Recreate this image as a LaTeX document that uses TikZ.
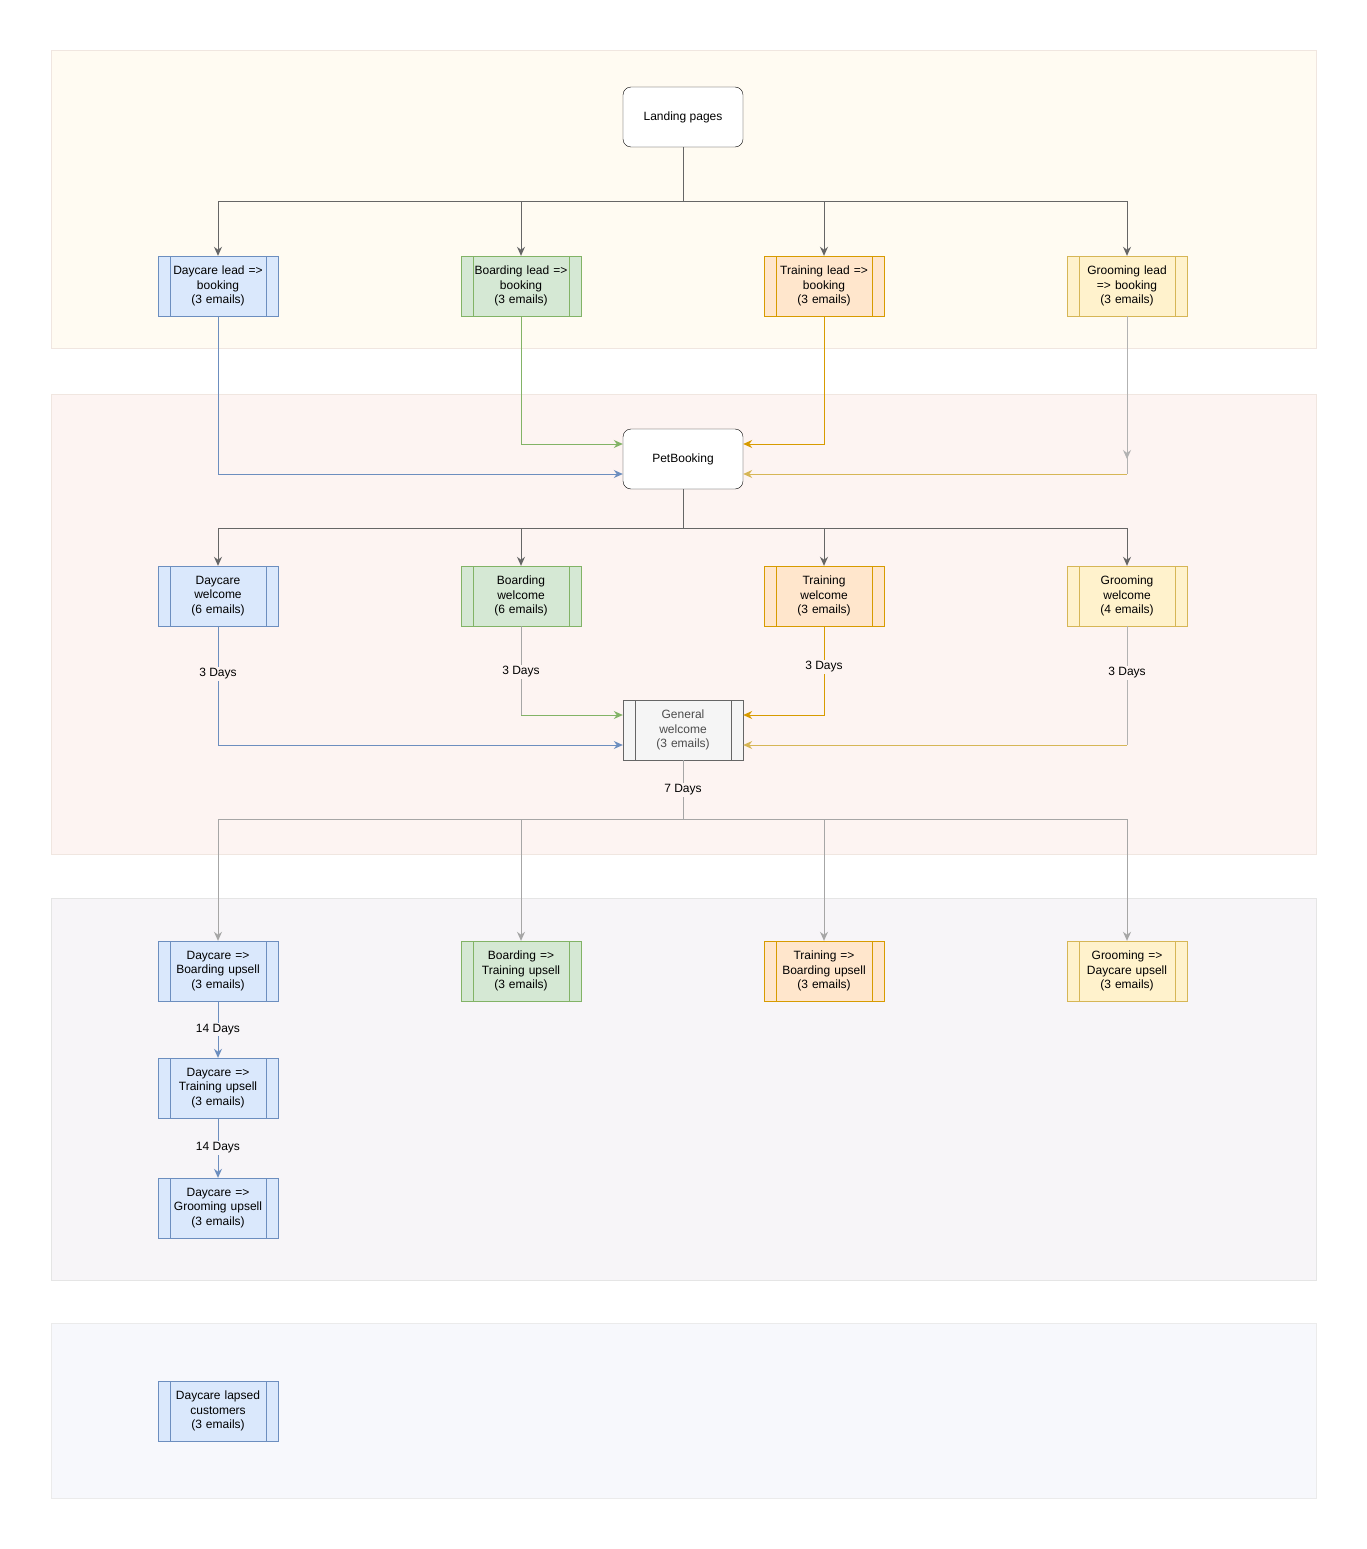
\documentclass[tikz,border=0pt]{standalone}
\usepackage{fontspec}
\setmainfont{Liberation Sans}
\usetikzlibrary{arrows.meta}
\definecolor{bF}{HTML}{DAE8FC}\definecolor{bD}{HTML}{6C8EBF}
\definecolor{gF}{HTML}{D5E8D4}\definecolor{gD}{HTML}{82B366}
\definecolor{oF}{HTML}{FFE6CC}\definecolor{oD}{HTML}{D79B00}
\definecolor{yF}{HTML}{FFF2CC}\definecolor{yD}{HTML}{D6B656}
\definecolor{nF}{HTML}{F5F5F5}\definecolor{nD}{HTML}{666666}
\definecolor{band1}{HTML}{FFFBF2}\definecolor{band2}{HTML}{FDF4F2}
\definecolor{band3}{HTML}{F7F5F8}\definecolor{band4}{HTML}{F7F8FC}
\definecolor{bandD}{HTML}{F0E6E0}
\tikzset{
 x=1pt,y=1pt,
 proc/.style 2 args={rectangle, draw=#2, fill=#1, minimum width=120pt, minimum height=60pt, inner sep=2pt, align=center, text width=100pt,
   font=\fontsize{12}{14.5}\selectfont,
   path picture={\draw[#2] ([xshift=12pt]path picture bounding box.north west) -- ([xshift=12pt]path picture bounding box.south west);
     \draw[#2] ([xshift=-12pt]path picture bounding box.north east) -- ([xshift=-12pt]path picture bounding box.south east);}},
 term/.style={rectangle, rounded corners=8pt, draw=black, fill=white, minimum width=120pt, minimum height=60pt, font=\fontsize{12}{14.5}\selectfont},
 band/.style={draw=bandD, line width=0.6pt},
 e/.style={draw=#1, line width=1pt, -{Stealth[length=9pt,width=8pt]}},
 lbl/.style={fill=#1, inner sep=1.5pt, font=\fontsize{12}{14.5}\selectfont},
}
\begin{document}
\begin{tikzpicture}
\useasboundingbox (0,0) rectangle (1366,-1549);
\fill[white] (0,0) rectangle (1366,-1549);
\draw[band, fill=band1] (51,-50) rectangle (1316,-348);
\draw[band, fill=band2] (51,-394) rectangle (1316,-854);
\draw[band, fill=band3, draw=black!10] (51,-898) rectangle (1316,-1280);
\draw[band, fill=band4, draw=black!8] (51,-1323) rectangle (1316,-1498);

\node[term] (land) at (683,-117) {Landing pages};
\node[proc={bF}{bD}] (dl) at (218,-286) {Daycare lead =>\\booking\\(3 emails)};
\node[proc={gF}{gD}] (bl) at (521,-286) {Boarding lead =>\\booking\\(3 emails)};
\node[proc={oF}{oD}] (tl) at (824,-286) {Training lead =>\\booking\\(3 emails)};
\node[proc={yF}{yD}] (gl) at (1127,-286) {Grooming lead\\=> booking\\(3 emails)};
\node[term] (pb) at (683,-459) {PetBooking};
\node[proc={bF}{bD}] (dw) at (218,-596) {Daycare\\welcome\\(6 emails)};
\node[proc={gF}{gD}] (bw) at (521,-596) {Boarding\\welcome\\(6 emails)};
\node[proc={oF}{oD}] (tw) at (824,-596) {Training\\welcome\\(3 emails)};
\node[proc={yF}{yD}] (gw) at (1127,-596) {Grooming\\welcome\\(4 emails)};
\node[proc={nF}{nD}, text=black!70] (gen) at (683,-730) {General\\welcome\\(3 emails)};
\node[proc={bF}{bD}] (du) at (218,-971) {Daycare =>\\Boarding upsell\\(3 emails)};
\node[proc={gF}{gD}] (bu) at (521,-971) {Boarding =>\\Training upsell\\(3 emails)};
\node[proc={oF}{oD}] (tu) at (824,-971) {Training =>\\Boarding upsell\\(3 emails)};
\node[proc={yF}{yD}] (gu) at (1127,-971) {Grooming =>\\Daycare upsell\\(3 emails)};
\node[proc={bF}{bD}] (dt) at (218,-1088) {Daycare =>\\Training upsell\\(3 emails)};
\node[proc={bF}{bD}] (dg) at (218,-1208) {Daycare =>\\Grooming upsell\\(3 emails)};
\node[proc={bF}{bD}] (dlap) at (218,-1411) {Daycare lapsed\\customers\\(3 emails)};

\coordinate (j1) at (683,-202);
\foreach \n in {dl,bl,tl,gl} \draw[e=black!60] (land.south) -- (j1) -| (\n.north);
\draw[e=bD] (dl.south) |- ([yshift=-15pt]pb.west);
\draw[e=gD] (bl.south) |- ([yshift=15pt]pb.west);
\draw[e=oD] (tl.south) |- ([yshift=15pt]pb.east);
\draw[e=black!30] (gl.south) -- (gl.south |- pb.east) ;
\draw[e=yD] (gl.south |- 0,-474) -- ([yshift=-15pt]pb.east);
\draw[draw=black!30, line width=1pt] (gl.south) -- (gl.south |- 0,-474);

\coordinate (j2) at (683,-528);
\foreach \n in {dw,bw,tw,gw} \draw[e=black!60] (pb.south) -- (j2) -| (\n.north);

\draw[e=bD] (dw.south) |- node[pos=0.2, lbl=band2]{3 Days} ([yshift=-15pt]gen.west);
\draw[draw=black!35, line width=1pt] (bw.south) -- (521,-715);
\draw[e=gD] (521,-715) -- ([yshift=15pt]gen.west);
\node[lbl=band2] at (521,-672) {3 Days};
\draw[e=oD] (tw.south) |- ([yshift=15pt]gen.east);
\node[lbl=band2] at (824,-667) {3 Days};
\draw[draw=black!30, line width=1pt] (gw.south) -- (1127,-745);
\draw[e=yD] (1127,-745) -- ([yshift=-15pt]gen.east);
\node[lbl=band2] at (1127,-673) {3 Days};

\coordinate (j3) at (683,-819);
\foreach \n in {du,bu,tu,gu} \draw[e=black!35] (gen.south) -- (j3) -| (\n.north);
\node[lbl=band2] at (683,-790) {7 Days};

\draw[e=bD] (du) -- node[lbl=band3]{14 Days} (dt);
\draw[e=bD] (dt) -- node[lbl=band3]{14 Days} (dg);
\end{tikzpicture}
\end{document}
